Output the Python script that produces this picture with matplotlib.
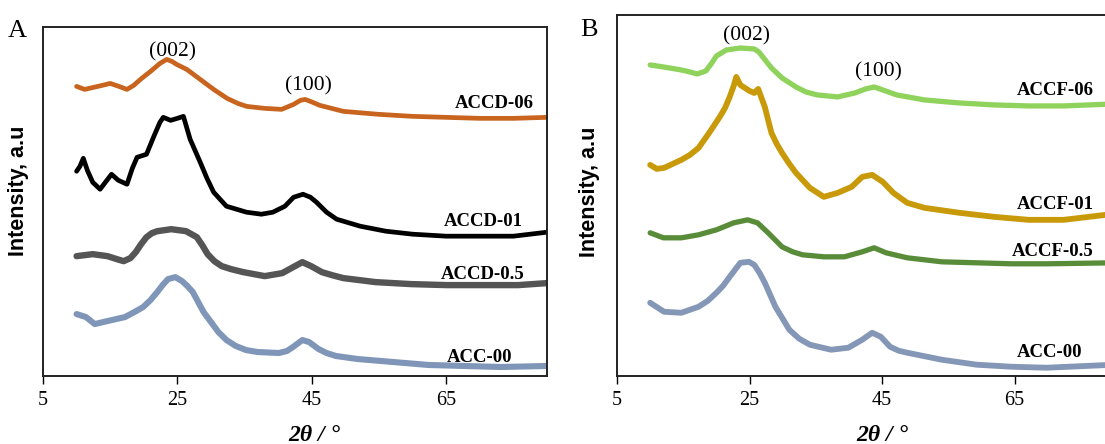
import matplotlib
matplotlib.use('Agg')
import matplotlib.pyplot as plt

# panel A: 2theta (deg) and intensity (a.u., stacked)
tt_d06 = [10, 11.2, 12.5, 13.8, 15, 16.3, 17.5, 18.5, 19.5, 21, 22.4, 23.4, 24.2, 24.9, 26.4, 28.4,
          30.4, 32.4, 34, 35.3, 38, 40.5, 42.3, 43.3, 44, 44.8, 46.2, 49.7, 55, 60, 65, 70, 75, 80]
accd_06 = [290, 287, 289, 291, 293, 290, 287, 291, 297, 305, 313, 317, 315, 312, 307, 297,
           287, 278, 273, 270, 268, 267, 272, 276, 277, 275, 271, 265, 262, 260, 259, 258, 258, 259]

tt_d01 = [10, 10.5, 11, 11.6, 12.4, 13.5, 14.4, 15.2, 16.2, 17.5, 18.3, 19, 20.4, 21.5, 22.4, 22.9,
          24, 25, 25.9, 26.9, 28.4, 29.4, 30.4, 32.3, 33.8, 35.3, 37.5, 39.2, 41, 42.3, 43.7, 44.8,
          45.7, 47.2, 48.7, 52.2, 56, 60, 65, 70, 75, 80]
accd_01 = [205, 210, 218, 206, 194, 187, 195, 202, 196, 192, 208, 219, 222, 240, 254, 259,
           256, 258, 260, 237, 214, 198, 184, 170, 167, 164, 162, 164, 170, 179, 182, 179,
           174, 164, 157, 150, 145, 142, 140, 140, 140, 144]

tt_d05 = [10, 12.4, 14.6, 16, 17, 18, 18.8, 19.6, 20.4, 21.2, 22, 24.1, 26.3, 27.9, 28.7, 29.5, 30.5,
          31.6, 33, 34.8, 38, 40.6, 42.5, 43.6, 44.9, 46.5, 48, 49.7, 54.5, 59.8, 65.1, 70.4, 75.7, 80]
accd_05 = [120, 122, 120, 117, 115, 118, 124, 132, 139, 143, 145, 147, 145, 139, 131, 122, 115,
           110, 107, 104, 100, 103, 110, 114, 110, 104, 101, 98, 94, 92, 91, 91, 91, 93]

tt_a00 = [10, 11.4, 12.7, 14.6, 17.2, 18.6, 19.9, 21, 22, 22.8, 23.6, 24.7, 25.7, 26.5, 27.3,
          28.1, 28.9, 30, 31.1, 32.3, 33.7, 35.2, 36.9, 40.1, 41.3, 42.2, 43.6, 44.6, 46, 47.2,
          48.6, 51.8, 57.1, 62.4, 67.8, 73.1, 80]
acc_00a = [62, 59, 52, 55, 59, 64, 69, 76, 84, 91, 97, 99, 95, 90, 84,
           74, 64, 54, 44, 36, 30, 26, 24, 23, 25, 29, 36, 34, 27, 23,
           20, 17, 14, 11, 10, 9, 10]

# panel B
tt_f06 = [10, 12, 14.7, 16, 17.1, 18.4, 19.2, 20, 21.5, 23.6, 25.7, 26.4, 27, 28.3, 29.9, 32,
          33.5, 35.2, 38.3, 40.9, 42.5, 43.8, 45.1, 47.2, 51.4, 56.6, 61.9, 67.1, 72.4, 80]
accf_06 = [311, 309, 306, 304, 302, 305, 312, 320, 326, 328, 327, 324, 319, 308, 298, 289,
           284, 281, 279, 283, 287, 289, 286, 281, 276, 273, 271, 270, 270, 272]

tt_f01 = [10, 11, 12.1, 13.4, 14.7, 16, 17.3, 18.9, 20.5, 21.3, 22, 22.6, 23, 23.6, 24.3, 25,
          25.7, 26.3, 27.3, 28.3, 29.1, 29.9, 31, 32, 34.1, 36.2, 38.3, 40.4, 42, 43.5, 45.1,
          46.7, 48.8, 51.4, 56.7, 61.9, 67.1, 72.4, 80]
accf_01 = [211, 207, 208, 212, 216, 221, 228, 243, 259, 268, 279, 290, 299, 291, 288, 285,
           283, 287, 269, 243, 232, 223, 212, 203, 188, 179, 183, 189, 199, 201, 194,
           183, 173, 168, 163, 159, 156, 156, 162]

tt_f05 = [10, 12, 14.7, 17.3, 20, 22.6, 24.7, 26.2, 27.8, 29.9, 31.5, 33, 36.2, 39.3, 42, 43.8,
          45.6, 48.8, 54, 59.3, 64.5, 69.8, 80]
accf_05 = [143, 138, 138, 141, 146, 153, 156, 153, 143, 129, 124, 121, 119, 119, 124, 128,
           123, 118, 114, 113, 112, 112, 113]

tt_b00 = [10, 12.1, 14.7, 17.3, 18.7, 20, 21, 22, 22.8, 23.6, 24.9, 25.7, 26.5, 27.3, 28.1,
          28.9, 30, 31, 32.5, 34.1, 37.3, 39.9, 42, 43.5, 44.8, 46.2, 47.5, 48.8, 54, 59.3,
          64.5, 69.8, 80]
acc_00b = [73, 64, 63, 69, 75, 83, 90, 99, 106, 113, 114, 111, 103, 93, 81,
           69, 57, 46, 37, 31, 26, 28, 36, 43, 39, 29, 25, 23, 16, 11,
           9, 8, 11]

xticks = [5, 25, 45, 65]

serif = 'Liberation Serif'
sans = 'Liberation Sans'

fig = plt.figure(figsize=(11.05, 4.44), dpi=100)
axA = fig.add_axes([0.0389, 0.1532, 0.4561, 0.7849])
axB = fig.add_axes([0.5584, 0.1538, 0.4498, 0.8124])

line_kw = dict(solid_joinstyle='round', solid_capstyle='round')

axA.plot(tt_d06, accd_06, color='#c8641e', lw=3.4, **line_kw)
axA.plot(tt_d01, accd_01, color='#000000', lw=3.4, **line_kw)
axA.plot(tt_d05, accd_05, color='#555555', lw=4.6, **line_kw)
axA.plot(tt_a00, acc_00a, color='#7f96b8', lw=4.4, **line_kw)

axB.plot(tt_f06, accf_06, color='#8fd25c', lw=3.8, **line_kw)
axB.plot(tt_f01, accf_01, color='#c89a0a', lw=4.2, **line_kw)
axB.plot(tt_f05, accf_05, color='#588c38', lw=3.8, **line_kw)
axB.plot(tt_b00, acc_00b, color='#8497b6', lw=4.2, **line_kw)

axA.set_ylim(0, 349)
axB.set_ylim(0, 361)

for ax in (axA, axB):
    ax.set_xlim(5, 80)
    ax.set_xticks(xticks)
    ax.set_yticks([])
    ax.tick_params(axis='x', direction='out', length=6, width=1, pad=5, labelsize=14.5)
    for lab in ax.get_xticklabels():
        lab.set_fontfamily(serif)
    for sp in ax.spines.values():
        sp.set_linewidth(1.4)
        sp.set_color('#222222')

# sample names
name_kw = dict(fontfamily=serif, fontweight='bold', fontsize=13.5, ha='right', va='center')
axA.text(78.0, 273, 'ACCD-06', **name_kw)
axA.text(76.4, 155, 'ACCD-01', **name_kw)
axA.text(76.6, 102, 'ACCD-0.5', **name_kw)
axA.text(74.8, 19, 'ACC-00', **name_kw)

axB.text(77.0, 285, 'ACCF-06', **name_kw)
axB.text(76.9, 171, 'ACCF-01', **name_kw)
axB.text(76.9, 124, 'ACCF-0.5', **name_kw)
axB.text(75.2, 23, 'ACC-00', **name_kw)

# peak indices
peak_kw = dict(fontfamily=serif, fontsize=15.5, ha='center', va='center')
axA.text(24.2, 325, '(002)', **peak_kw)
axA.text(44.5, 291, '(100)', **peak_kw)
axB.text(24.5, 340, '(002)', **peak_kw)
axB.text(44.4, 304, '(100)', **peak_kw)

# panel letters, axis titles
fig.text(8 / 1105, 1 - 31 / 444, 'A', fontfamily=serif, fontsize=19, ha='left', va='center')
fig.text(580 / 1105, 1 - 30 / 444, 'B', fontfamily=serif, fontsize=19, ha='left', va='center')

ylab_kw = dict(fontfamily=sans, fontweight='bold', fontsize=15.5, rotation=90, ha='center', va='center')
fig.text(19 / 1105, 1 - 191 / 444, 'Intensity, a.u', **ylab_kw)
fig.text(590 / 1105, 1 - 192 / 444, 'Intensity, a.u', **ylab_kw)

xlab_kw = dict(fontfamily=serif, fontweight='bold', fontstyle='italic', fontsize=17, ha='center', va='center')
fig.text(314 / 1105, 1 - 435 / 444, '2θ / °', **xlab_kw)
fig.text(882 / 1105, 1 - 435 / 444, '2θ / °', **xlab_kw)

fig.savefig('out.png', dpi=100)
